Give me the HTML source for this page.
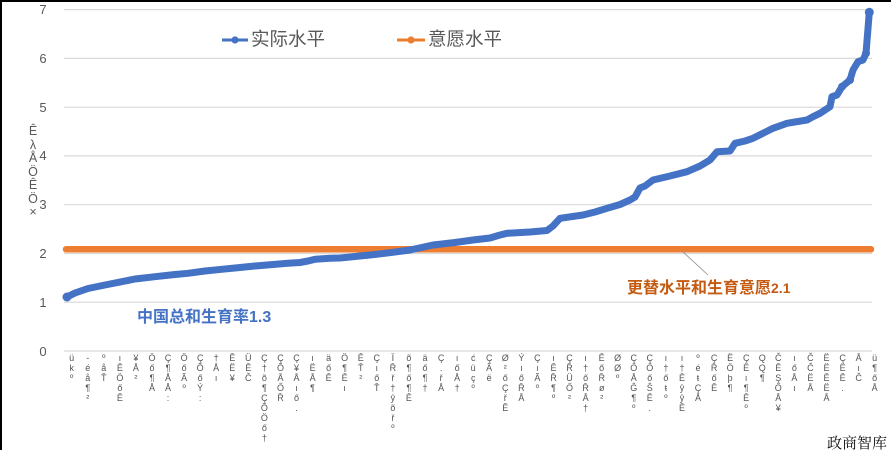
<!DOCTYPE html>
<html><head><meta charset="utf-8">
<style>
html,body{margin:0;padding:0;background:#fff;}
body{width:891px;height:450px;position:relative;overflow:hidden;font-family:"Liberation Sans","Noto Sans CJK SC",sans-serif;}
.xl{position:absolute;top:353px;width:12px;margin-left:-6px;text-align:center;font-size:9px;line-height:10px;color:#555;font-family:"Liberation Sans","DejaVu Sans",sans-serif;}
.yt{position:absolute;left:26px;width:14px;text-align:center;font-size:12.5px;color:#595959;line-height:13.5px;top:125px;}
</style></head><body>
<svg width="891" height="450" style="position:absolute;left:0;top:0" xmlns="http://www.w3.org/2000/svg">
<rect x="0" y="0" width="891" height="2" fill="#000"/>
<rect x="0" y="0" width="2" height="450" fill="#000"/>
<g stroke="#d9d9d9" stroke-width="1.2">
<line x1="64" y1="9.6" x2="872" y2="9.6"/>
<line x1="64" y1="58.4" x2="872" y2="58.4"/>
<line x1="64" y1="107.2" x2="872" y2="107.2"/>
<line x1="64" y1="155.9" x2="872" y2="155.9"/>
<line x1="64" y1="204.7" x2="872" y2="204.7"/>
<line x1="64" y1="253.5" x2="872" y2="253.5"/>
<line x1="64" y1="302.2" x2="872" y2="302.2"/>
<line x1="64" y1="351" x2="872" y2="351"/>
</g>
<g font-size="13" fill="#595959" text-anchor="middle" font-family="Liberation Sans, sans-serif">
<text x="43" y="14">7</text>
<text x="43" y="63">6</text>
<text x="43" y="112">5</text>
<text x="43" y="160">4</text>
<text x="43" y="209">3</text>
<text x="43" y="258">2</text>
<text x="43" y="307">1</text>
<text x="43" y="356">0</text>
</g>
<!-- orange series -->
<line x1="66" y1="249.3" x2="871" y2="249.3" stroke="#ED7D31" stroke-width="6.5" stroke-linecap="round"/>
<!-- blue series -->
<polyline fill="none" stroke="#4472C4" stroke-width="7" stroke-linejoin="round" stroke-linecap="round"
points="67,297 75,293 88,288.5 105,285 121.7,281.7 135,279 155,276.7 175,274.5 188,273.3 205,271 221.7,269.3 240,267.5 255,266 270,264.8 288,263.3 300,262.5 308,261 315,259.3 330,258.3 340,258 355,256.5 370,255 390,252.7 410,250 433,245 455,242.5 473,240 490,238 500,235 507,233.3 530,232 547,230.5 553,226 560,218.3 583,215 595,212 607,208.3 620,204.5 630,200 635,197 640,188 645,186 653,180 670,176 687,171.7 700,166 710,160 717,151.7 730,151 735,143.3 745,141 753,138.3 763,133.3 773,128.3 787,123.3 807,120 813,116.7 820,113.3 830,106.7 832,96.7 837,95 842,86.7 850,80 853,70 858,61.7 863,60 866,53.3 869.3,12.3"/>
<circle cx="869.3" cy="12.3" r="4.5" fill="#4472C4"/>
<circle cx="866" cy="53.3" r="4" fill="#4472C4"/>
<circle cx="850" cy="80" r="4" fill="#4472C4"/>
<circle cx="842" cy="86.7" r="4" fill="#4472C4"/>
<circle cx="67" cy="297" r="4.5" fill="#4472C4"/>
<!-- legend -->
<line x1="222" y1="40" x2="248" y2="40" stroke="#4472C4" stroke-width="3"/>
<circle cx="235" cy="40" r="3.6" fill="#4472C4"/>
<text x="251" y="45.5" font-size="18.5" fill="#595959" font-family="Liberation Sans, Noto Sans CJK SC, sans-serif">实际水平</text>
<line x1="397" y1="40" x2="425" y2="40" stroke="#ED7D31" stroke-width="3"/>
<circle cx="411" cy="40" r="3.6" fill="#ED7D31"/>
<text x="428" y="45.5" font-size="18.5" fill="#595959" font-family="Liberation Sans, Noto Sans CJK SC, sans-serif">意愿水平</text>
<!-- annotations -->
<text x="137" y="322" font-size="16" font-weight="bold" fill="#4472C4" font-family="Liberation Sans, Noto Sans CJK SC, sans-serif">中国总和生育率1.3</text>
<line x1="682" y1="251" x2="708" y2="275" stroke="#8c8c8c" stroke-width="0.8"/>
<text x="627" y="293" font-size="16" font-weight="bold" fill="#C55A11" font-family="Liberation Sans, Noto Sans CJK SC, sans-serif">更替水平和生育意愿<tspan font-size="14">2.1</tspan></text>
<text x="827" y="448" font-size="15" fill="#111" font-family="Noto Serif CJK SC, serif">政商智库</text>
</svg>
<div class="yt">Ê<br>λ<br>Å<br>Ö<br>Ê<br>Ö<br>×</div>
<div class="xl" style="left:71.7px">ü<br>k<br>º</div>
<div class="xl" style="left:87.8px">-<br>é<br>å<br>¶<br>²</div>
<div class="xl" style="left:103.8px">º<br>å<br>Ť</div>
<div class="xl" style="left:119.9px">ı<br>Ê<br>Ö<br>ő<br>Ê</div>
<div class="xl" style="left:135.9px">¥<br>Å<br>²</div>
<div class="xl" style="left:152px">Ö<br>ő<br>¶<br>Å</div>
<div class="xl" style="left:168px">Ç<br>¶<br>Å<br>Å<br>:</div>
<div class="xl" style="left:184.1px">Ö<br>ő<br>Ã<br>º</div>
<div class="xl" style="left:200.2px">Ç<br>Õ<br>ő<br>Ý<br>:</div>
<div class="xl" style="left:216.2px">†<br>Å<br>ı</div>
<div class="xl" style="left:232.3px">Ê<br>Ë<br>¥</div>
<div class="xl" style="left:248.3px">Ü<br>Ê<br>Č</div>
<div class="xl" style="left:264.4px">Ç<br>†<br>õ<br>¶<br>Ç<br>Õ<br>Ö<br>ő<br>†</div>
<div class="xl" style="left:280.5px">Ç<br>Õ<br>Å<br>Ő<br>Ř</div>
<div class="xl" style="left:296.5px">Ç<br>¥<br>Å<br>ı<br>ő<br>.</div>
<div class="xl" style="left:312.6px">ı<br>Ë<br>Å<br>¶</div>
<div class="xl" style="left:328.6px">ä<br>ő<br>Ê</div>
<div class="xl" style="left:344.7px">Ö<br>¶<br>Ê<br>ı</div>
<div class="xl" style="left:360.8px">Ê<br>Ť<br>²</div>
<div class="xl" style="left:376.8px">Ç<br>ı<br>ő<br>Ť</div>
<div class="xl" style="left:392.9px">Ï<br>Ř<br>ř<br>†<br>ŷ<br>õ<br>ř<br>º</div>
<div class="xl" style="left:408.9px">õ<br>¶<br>ő<br>¶<br>Ê</div>
<div class="xl" style="left:425px">ä<br>ő<br>¶<br>†</div>
<div class="xl" style="left:441.1px">Ç<br>.<br>ř<br>Å</div>
<div class="xl" style="left:457.1px">ı<br>ő<br>Å<br>†</div>
<div class="xl" style="left:473.2px">ć<br>ü<br>ç<br>º</div>
<div class="xl" style="left:489.2px">Ç<br>Ã<br>ë</div>
<div class="xl" style="left:505.3px">Ø<br>²<br>ő<br>Ç<br>ř<br>Ê</div>
<div class="xl" style="left:521.4px">Ý<br>ı<br>ő<br>Ř<br>Å</div>
<div class="xl" style="left:537.4px">Ç<br>ı<br>Ã<br>º</div>
<div class="xl" style="left:553.5px">ı<br>Ê<br>Ř<br>¶<br>º</div>
<div class="xl" style="left:569.5px">Ç<br>Ř<br>Ü<br>Ő<br>²</div>
<div class="xl" style="left:585.6px">ı<br>†<br>ő<br>Ř<br>Å<br>†</div>
<div class="xl" style="left:601.7px">Ê<br>ő<br>Ř<br>ø<br>²</div>
<div class="xl" style="left:617.7px">Ø<br>Ø<br>º</div>
<div class="xl" style="left:633.8px">Ç<br>Ő<br>Å<br>Ĝ<br>¶<br>º</div>
<div class="xl" style="left:649.8px">Ç<br>Ő<br>ő<br>Ŝ<br>Ê<br>.</div>
<div class="xl" style="left:665.9px">ı<br>†<br>ő<br>ŧ<br>º</div>
<div class="xl" style="left:682px">ı<br>†<br>Ê<br>ŷ<br>ŷ<br>Ê</div>
<div class="xl" style="left:698px">º<br>é<br>ŧ<br>Ç<br>Å</div>
<div class="xl" style="left:714.1px">Ç<br>Ř<br>ő<br>Ê</div>
<div class="xl" style="left:730.1px">Ë<br>Ö<br>þ<br>¶</div>
<div class="xl" style="left:746.2px">Ç<br>Ë<br>ı<br>¶<br>Ê<br>º</div>
<div class="xl" style="left:762.3px">Q<br>Q<br>¶</div>
<div class="xl" style="left:778.3px">Č<br>Ê<br>Ş<br>Ő<br>Å<br>¥</div>
<div class="xl" style="left:794.4px">ı<br>ő<br>Å<br>ı</div>
<div class="xl" style="left:810.4px">Č<br>Č<br>Ë<br>Å</div>
<div class="xl" style="left:826.5px">Ë<br>Ë<br>Ê<br>Ë<br>Å</div>
<div class="xl" style="left:842.6px">Ç<br>Ë<br>Ê<br>.</div>
<div class="xl" style="left:858.6px">Å<br>ı<br>Č</div>
<div class="xl" style="left:874.7px">ü<br>¶<br>ő<br>Å</div>
</body></html>
